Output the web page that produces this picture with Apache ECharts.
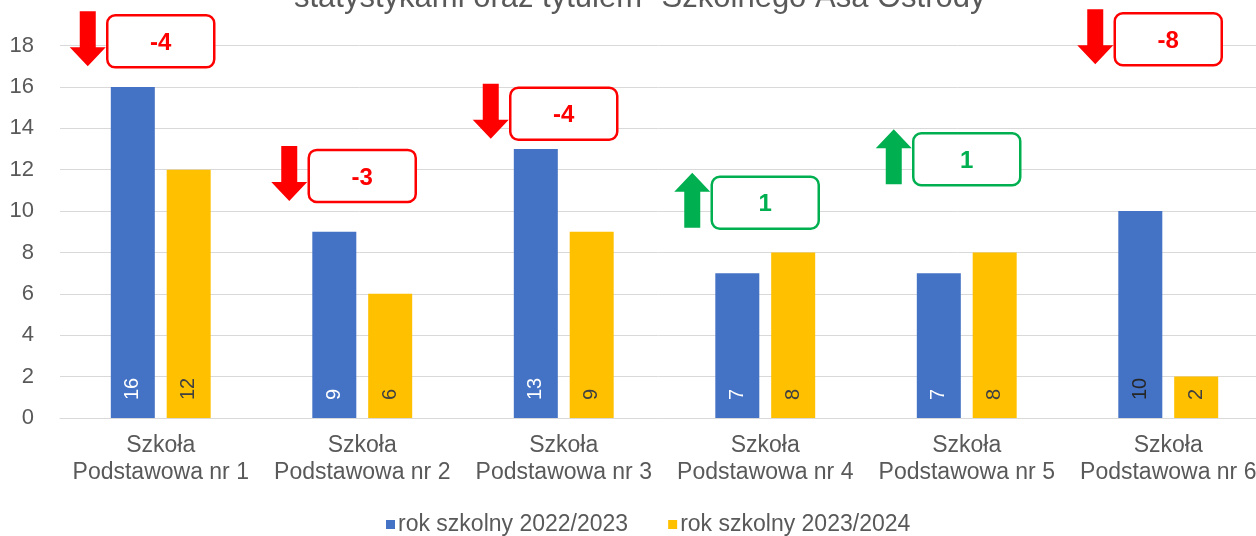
<!DOCTYPE html>
<html>
<head>
<meta charset="utf-8">
<script src="https://cdn.jsdelivr.net/npm/echarts@6/dist/echarts.min.js"></script>
<style>
    html, body {margin: 0; padding: 0; background: #fff;}
    #chart {width: 1256px; height: 536px;}
</style>
</head>
<body>
<div id="chart"></div>
<script>
// dane wykresu
var schools = ['Szkoła\nPodstawowa nr 1', 'Szkoła\nPodstawowa nr 2', 'Szkoła\nPodstawowa nr 3',
    'Szkoła\nPodstawowa nr 4', 'Szkoła\nPodstawowa nr 5', 'Szkoła\nPodstawowa nr 6'];
var year2223 = [16, 9, 13, 7, 7, 10];
var year2324 = [12, 6, 9, 8, 8, 2];
// wysokość ramek ze zmianą (w jednostkach osi Y)
var changeLevels = [18.2, 11.7, 14.7, 10.4, 12.5, 18.3];

var fontName = '"Liberation Sans", Arial, sans-serif';
var textGray = '#595959';

var changeData = schools.map(function (s, i) {
    return [i, changeLevels[i], year2324[i] - year2223[i]];
});

var chart = echarts.init(document.getElementById('chart'));

function renderChange(params, api) {
    var p = api.coord([api.value(0), api.value(1)]);
    var diff = api.value(2);
    var up = diff > 0;
    var color = up ? '#00B050' : '#FF0000';
    var cx = p[0] - 73, cy = p[1] - 2.5;
    var top = cy - 27.5, bottom = cy + 27.5;
    var pts;
    if (up) {
        pts = [[cx, top], [cx + 18, top + 19], [cx + 8, top + 19], [cx + 8, bottom],
            [cx - 8, bottom], [cx - 8, top + 19], [cx - 18, top + 19]];
    } else {
        pts = [[cx - 8, top], [cx + 8, top], [cx + 8, bottom - 19], [cx + 18, bottom - 19],
            [cx, bottom], [cx - 18, bottom - 19], [cx - 8, bottom - 19]];
    }
    return {
        type: 'group',
        children: [
            {type: 'polygon', shape: {points: pts}, style: {fill: color}},
            {
                type: 'rect',
                shape: {x: p[0] - 53.5, y: p[1] - 26, width: 107, height: 52, r: 8},
                style: {fill: '#fff', stroke: color, lineWidth: 2.5}
            },
            {
                type: 'text',
                x: p[0], y: p[1] + 2,
                style: {
                    text: String(diff), fill: color, font: 'bold 24px ' + fontName,
                    align: 'center', verticalAlign: 'middle'
                }
            }
        ]
    };
}

var option = {
    animation: false,
    textStyle: {fontFamily: fontName},
    title: {
        text: 'statystykami oraz tytułem "Szkolnego Asa Ostrody"',
        left: 289, top: -22,
        textStyle: {fontSize: 31, fontWeight: 'normal', color: textGray, fontFamily: fontName}
    },
    legend: {
        data: ['rok szkolny 2022/2023', 'rok szkolny 2023/2024'],
        left: 381, top: 508,
        icon: 'rect', itemWidth: 9, itemHeight: 9, itemGap: 40,
        textStyle: {fontSize: 23, color: textGray, padding: [0, 0, 0, -2]}
    },
    grid: {left: 60, width: 1209, top: 45.5, bottom: 118, containLabel: false, outerBoundsMode: 'none'},
    xAxis: {
        type: 'category',
        data: schools,
        axisTick: {show: false},
        axisLine: {lineStyle: {color: '#d9d9d9'}},
        axisLabel: {interval: 0, fontSize: 23, color: textGray, lineHeight: 27, margin: 14}
    },
    yAxis: {
        type: 'value',
        min: 0, max: 18, interval: 2,
        axisLine: {show: false},
        axisTick: {show: false},
        splitLine: {lineStyle: {color: '#d9d9d9'}},
        axisLabel: {fontSize: 22, color: textGray, margin: 26}
    },
    series: [
        {
            name: 'rok szkolny 2022/2023',
            type: 'bar',
            barWidth: 44,
            barGap: '27%',
            itemStyle: {color: '#4472C4'},
            label: {
                show: true, position: 'insideBottom', rotate: 90, distance: 18,
                align: 'left', verticalAlign: 'middle', fontSize: 20, color: '#fff'
            },
            data: year2223.map(function (v, i) {
                // ostatnia etykieta jest ciemna
                return i === 5 ? {value: v, label: {color: '#262626'}} : v;
            })
        },
        {
            name: 'rok szkolny 2023/2024',
            type: 'bar',
            barWidth: 44,
            itemStyle: {color: '#FFC000'},
            label: {
                show: true, position: 'insideBottom', rotate: 90, distance: 18,
                align: 'left', verticalAlign: 'middle', fontSize: 20, color: '#404040'
            },
            data: year2324
        },
        {
            name: 'zmiana',
            type: 'custom',
            renderItem: renderChange,
            silent: true,
            z: 10,
            data: changeData
        }
    ]
};
chart.setOption(option);
</script>
</body>
</html>
